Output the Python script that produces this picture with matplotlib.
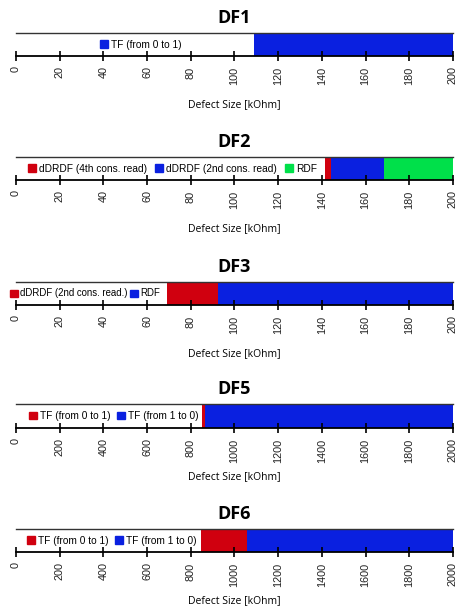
import numpy as np
import matplotlib.pyplot as plt
from matplotlib.patches import Patch

# defect ranges per fault: (label, start, end, colour key)
titles = ["DF1", "DF2", "DF3", "DF5", "DF6"]
xmax = [200, 200, 200, 2000, 2000]

df1_labels = ["TF (from 0 to 1)"]
df1_start = [109]
df1_end = [200]
df1_colors = ["blue"]

df2_labels = ["dDRDF (4th cons. read)", "dDRDF (2nd cons. read)", "RDF"]
df2_start = [141.5, 144, 168.5]
df2_end = [144, 168.5, 200]
df2_colors = ["red", "blue", "green"]

df3_labels = ["dDRDF (2nd cons. read.)", "RDF"]
df3_start = [69, 92.5]
df3_end = [92.5, 200]
df3_colors = ["red", "blue"]

df5_labels = ["TF (from 0 to 1)", "TF (from 1 to 0)"]
df5_start = [850, 865]
df5_end = [865, 2000]
df5_colors = ["red", "blue"]

df6_labels = ["TF (from 0 to 1)", "TF (from 1 to 0)"]
df6_start = [845, 1055]
df6_end = [1055, 2000]
df6_colors = ["red", "blue"]

palette = {"red": "#d0000f", "blue": "#0a20e0", "green": "#00e04a"}

panels = [
    (df1_labels, df1_start, df1_end, df1_colors),
    (df2_labels, df2_start, df2_end, df2_colors),
    (df3_labels, df3_start, df3_end, df3_colors),
    (df5_labels, df5_start, df5_end, df5_colors),
    (df6_labels, df6_start, df6_end, df6_colors),
]

# layout in pixels (top, bottom of axes), legend start, spacing and size
axes_px = [(33, 56), (157, 180), (282, 305), (404, 428), (529, 552)]
legend_x = [0.192, 0.027, -0.014, 0.030, 0.025]
legend_gap = [0.75, 0.8, 0.2, 0.6, 0.6]
legend_size = [7.3, 7.3, 6.9, 7.3, 7.3]

W, H = 456, 606
fig = plt.figure(figsize=(W / 100, H / 100), dpi=100)

left = 16 / W
width = (453 - 16) / W

for i, (labels, start, end, colors) in enumerate(panels):
    top, bot = axes_px[i]
    h = bot - top
    ax = fig.add_axes([left, 1 - bot / H, width, h / H])
    for s, e, c in zip(start, end, colors):
        ax.barh(0, e - s, left=s, height=1, color=palette[c], linewidth=0)
    ax.set_xlim(0, xmax[i])
    ax.set_ylim(-0.5, 0.5)
    ax.set_yticks([])
    ax.spines["left"].set_visible(False)
    ax.spines["right"].set_visible(False)
    ax.spines["top"].set_color("#333333")
    ax.spines["top"].set_linewidth(1.0)
    ax.spines["bottom"].set_linewidth(1.3)
    ax.set_xticks(np.linspace(0, xmax[i], 11))
    ax.tick_params(axis="x", direction="inout", length=7, width=1.2,
                   labelsize=7.8, labelrotation=90, pad=4, labelcolor="#222222")
    for lab in ax.get_xticklabels():
        lab.set_fontfamily("Liberation Sans")
    ax.set_xlabel("Defect Size [kOhm]", fontsize=7.5, family="Open Sans")
    ax.xaxis.set_label_coords(0.5, -43 / h)
    ax.xaxis.label.set_va("top")
    ax.set_title(titles[i], fontsize=13, fontweight="bold", family="Open Sans", pad=7)

    handles = [Patch(color=palette[c]) for c in colors]
    ax.legend(handles, labels, loc="center left", bbox_to_anchor=(legend_x[i], 0.5),
              ncol=len(labels), frameon=False, borderpad=0, borderaxespad=0,
              handlelength=0.8, handleheight=0.8, handletextpad=0.3,
              columnspacing=legend_gap[i],
              prop={"family": "Liberation Sans", "size": legend_size[i]})

fig.savefig("out.png", dpi=100)
